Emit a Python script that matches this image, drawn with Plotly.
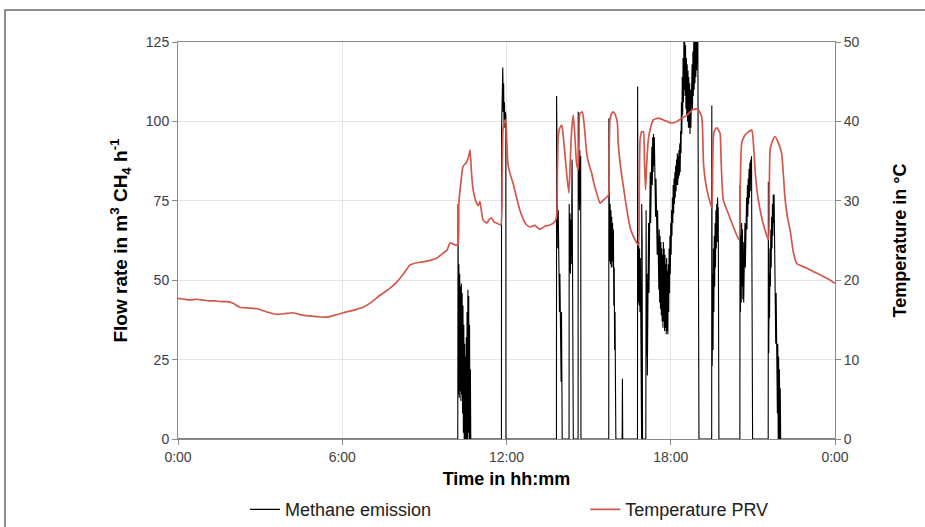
import plotly.graph_objects as go

# ---------------- data (time in hours of day) ----------------
temp_t = [0.00, 0.22, 0.44, 0.68, 0.91, 1.12, 1.35, 1.57, 1.79, 2.01, 2.26, 2.56, 2.89, 3.25, 3.62,
          3.91, 4.20, 4.53, 4.82, 5.11, 5.44, 5.74, 6.03, 6.39, 6.76, 7.09, 7.38, 7.71, 8.00, 8.26,
          8.47, 8.73, 8.95, 9.21, 9.46, 9.68, 9.83, 9.94, 10.08, 10.22, 10.26, 10.34, 10.41, 10.48,
          10.55, 10.62, 10.67, 10.72, 10.78, 10.91, 10.97, 11.03, 11.14, 11.28, 11.38, 11.46, 11.55,
          11.64, 11.79, 11.84, 11.87, 11.93, 11.97, 12.01, 12.05, 12.14, 12.24, 12.36, 12.49, 12.61,
          12.74, 12.86, 13.04, 13.22, 13.41, 13.59, 13.77, 13.83, 13.86, 13.89, 13.95, 14.02, 14.08,
          14.14, 14.21, 14.28, 14.33, 14.38, 14.44, 14.50, 14.56, 14.62, 14.65, 14.68, 14.77, 14.84,
          14.93, 15.01, 15.11, 15.20, 15.29, 15.42, 15.54, 15.72, 15.75, 15.78, 15.84, 15.90, 15.98,
          16.05, 16.08, 16.17, 16.27, 16.39, 16.51, 16.60, 16.69, 16.82, 16.85, 16.88, 16.94, 17.00,
          17.04, 17.08, 17.12, 17.18, 17.27, 17.36, 17.55, 17.79, 18.03, 18.22, 18.40, 18.60, 18.77,
          18.98, 19.13, 19.20, 19.32, 19.50, 19.53, 19.56, 19.62, 19.69, 19.80, 19.84, 19.92, 20.10,
          20.29, 20.49, 20.54, 20.59, 20.68, 20.77, 20.96, 21.02, 21.10, 21.20, 21.39, 21.57, 21.60,
          21.63, 21.72, 21.81, 21.93, 22.05, 22.11, 22.17, 22.26, 22.36, 22.48, 22.60, 22.78, 22.97,
          23.20, 23.45, 23.72, 24.00]
temp_v = [17.7, 17.6, 17.5, 17.6, 17.5, 17.4, 17.4, 17.3, 17.3, 17.1, 16.6, 16.5, 16.4, 16.0, 15.7,
          15.8, 15.9, 15.6, 15.5, 15.4, 15.35, 15.6, 15.9, 16.2, 16.6, 17.3, 18.1, 18.9, 19.8, 20.9,
          21.9, 22.2, 22.3, 22.5, 22.8, 23.4, 23.8, 24.7, 24.5, 24.4, 29.7, 32.5, 34.3, 34.6,
          34.9, 35.6, 36.4, 33.6, 31.4, 29.7, 29.4, 29.9, 27.6, 27.2, 27.7, 27.8, 27.3,
          27.2, 26.95, 33.0, 38.9, 40.0, 40.2, 37.5, 34.7, 33.3, 32.2, 30.5, 28.8, 27.7,
          26.95, 26.7, 26.9, 26.4, 26.8, 26.95, 27.4, 28.0, 34.0, 38.1, 39.2, 39.5, 37.9,
          35.6, 33.0, 31.0, 35.0, 38.9, 40.8, 38.0, 34.7, 33.9, 37.5, 41.0, 41.2, 39.5,
          36.0, 34.6, 33.5, 32.1, 31.0, 29.7, 30.1, 30.7, 36.0, 40.2, 41.0, 41.2, 40.8,
          39.8, 37.3, 34.2, 31.8, 29.0, 26.7, 25.8, 25.1, 24.4, 31.0, 37.7, 38.7, 38.7,
          35.0, 31.4, 34.5, 37.7, 39.3, 40.2, 40.4, 40.1, 39.8, 40.0, 40.4, 40.8, 41.4,
          41.6, 40.6, 34.5, 31.4, 29.1, 34.0, 38.1, 39.0, 39.2, 38.5, 35.0, 30.1, 28.4,
          26.7, 25.1, 32.0, 37.2, 38.1, 38.5, 38.9, 37.2, 33.0, 30.1, 26.95, 25.1, 31.0,
          36.4, 37.6, 38.1, 37.3, 36.0, 33.5, 30.5, 28.0, 26.3, 23.5, 22.1, 21.8, 21.5,
          21.1, 20.7, 20.2, 19.6]

# methane emission bursts (time h, flow m3 CH4/h); zero in between
ch4_burst1_t = [10.22, 10.230, 10.245, 10.260, 10.275, 10.290, 10.305, 10.320, 10.335, 10.350, 10.365,
                10.380, 10.395, 10.410, 10.425, 10.440, 10.455, 10.470, 10.485, 10.500, 10.515,
                10.530, 10.545, 10.560, 10.575, 10.590, 10.605, 10.620, 10.635, 10.650, 10.665,
                10.680, 10.695]
ch4_burst1_v = [0, 74, 14, 55, 13, 52, 15, 48, 12, 49, 14, 46, 8, 42, 2, 36, 0, 30, 0, 26, 0,
                32, 0, 40, 0, 47, 2, 45, 0, 36, 0, 22, 0]

ch4_burst2_t = [11.815, 11.820, 11.835, 11.850, 11.865, 11.880, 11.895, 11.910, 11.925, 11.940,
                11.955, 11.975, 11.980]
ch4_burst2_v = [0, 97, 108, 100, 117, 103, 112, 99, 106, 98, 103, 102, 0]

ch4_burst3_t = [13.825, 13.830, 13.845, 13.860, 13.875, 13.890, 13.905, 13.920, 13.935, 13.950,
                13.965, 13.980, 13.995, 14.010, 14.025, 14.035]
ch4_burst3_v = [0, 108, 91, 78, 60, 72, 50, 62, 40, 52, 28, 46, 18, 40, 16, 0]

ch4_burst4_t = [14.285, 14.290, 14.305, 14.320, 14.335, 14.350, 14.365, 14.380, 14.395, 14.440]
ch4_burst4_v = [0, 74, 53, 71, 52, 69, 55, 67, 88, 0]

ch4_burst5_t = [14.615, 14.620, 14.635, 14.650, 14.665, 14.680, 14.695, 14.710, 14.720]
ch4_burst5_v = [0, 103, 78, 93, 72, 91, 74, 89, 0]

ch4_burst6_t = [15.735, 15.740, 15.755, 15.770, 15.785, 15.800, 15.815, 15.830, 15.845, 15.860,
                15.875, 15.890, 15.905, 15.920, 15.935, 15.950, 15.965, 15.980, 15.995]
ch4_burst6_v = [0, 101, 72, 56, 74, 55, 72, 54, 70, 56, 68, 54, 66, 42, 54, 28, 40, 18, 0]

ch4_burst7_t = [16.225, 16.235, 16.245]
ch4_burst7_v = [0, 19, 0]

ch4_burst8_t = [16.785, 16.790, 16.800, 16.815, 16.830, 16.845, 16.860, 16.875, 16.890, 16.905,
                16.915, 16.935, 16.940, 16.955, 16.970, 17.090, 17.100, 17.115, 17.130, 17.145,
                17.160, 17.175, 17.190, 17.205, 17.220, 17.235, 17.250, 17.265, 17.280, 17.295,
                17.310, 17.325, 17.340, 17.355, 17.370, 17.385, 17.400, 17.415, 17.430, 17.445,
                17.460, 17.475, 17.490, 17.505, 17.520, 17.535, 17.550, 17.565, 17.580, 17.595,
                17.610, 17.625, 17.640, 17.655, 17.670, 17.685, 17.700, 17.715, 17.730, 17.745,
                17.760, 17.775, 17.790, 17.805, 17.820, 17.835, 17.850, 17.865, 17.880, 17.895,
                17.910, 17.925, 17.940, 17.955, 17.970, 17.985, 18.000, 18.015, 18.030, 18.045,
                18.060, 18.075, 18.090, 18.105, 18.120, 18.135, 18.150, 18.165, 18.180, 18.195,
                18.210, 18.225, 18.240, 18.255, 18.270, 18.285, 18.300, 18.315, 18.330, 18.345,
                18.360, 18.375, 18.390, 18.405, 18.420, 18.435, 18.450, 18.465, 18.480, 18.495,
                18.510, 18.525, 18.540, 18.555, 18.570, 18.585, 18.600, 18.615, 18.630, 18.645,
                18.660, 18.675, 18.690, 18.705, 18.720, 18.735, 18.750, 18.765, 18.780, 18.795,
                18.810, 18.825, 18.840, 18.855, 18.870, 18.885, 18.900, 18.915, 18.930, 18.945,
                18.960, 18.975, 18.990, 19.030]
ch4_burst8_v = [0, 111, 62, 43, 62, 42, 60, 40, 57, 38,
                0, 0, 74, 62, 0, 0, 72, 26, 52, 20,
                60, 33, 68, 46, 76, 58, 84, 68, 88, 76,
                92, 80, 95, 84, 96, 86, 95, 78, 88, 70,
                82, 64, 78, 58, 72, 52, 68, 47, 66, 43,
                64, 41, 62, 39, 60, 37, 58, 35, 62, 37,
                60, 34, 58, 35, 55, 33, 57, 34, 53, 33,
                55, 40, 60, 46, 64, 52, 68, 58, 72, 64,
                76, 68, 80, 71, 82, 74, 84, 76, 86, 78,
                88, 80, 90, 80, 89, 82, 91, 83, 93, 84,
                97, 90, 106, 96, 114, 102, 120, 106, 125, 110,
                125, 108, 124, 104, 120, 102, 118, 100, 116, 98,
                114, 98, 112, 96, 110, 98, 114, 102, 118, 104,
                122, 108, 125, 110, 125, 112, 125, 114, 125, 116,
                125, 118, 125, 0]

ch4_burst9_t = [19.495, 19.500, 19.515, 19.530, 19.545, 19.560, 19.575, 19.590, 19.605, 19.620,
                19.635, 19.650, 19.665, 19.680, 19.695, 19.710, 19.725, 19.735, 19.760]
ch4_burst9_v = [0, 105, 23, 52, 28, 60, 40, 64, 48, 68, 54, 72, 60, 74, 62, 76, 66, 73, 0]

ch4_burst10_t = [20.525, 20.530, 20.545, 20.560, 20.575, 20.590, 20.605, 20.620, 20.635, 20.650,
                 20.665, 20.680, 20.695, 20.710, 20.725, 20.740, 20.755, 20.770, 20.785, 20.800,
                 20.815, 20.830, 20.845, 20.860, 20.875, 20.890, 20.905, 20.920, 20.935, 20.950,
                 20.990]
ch4_burst10_v = [0, 80, 40, 64, 43, 68, 48, 66, 44, 62, 43, 64, 48, 68, 54, 72, 60, 76, 66, 80,
                 70, 82, 74, 85, 76, 87, 78, 88, 82, 89, 0]

ch4_burst11_t = [21.560, 21.565, 21.580, 21.595, 21.610, 21.625, 21.640, 21.655, 21.670, 21.685,
                 21.700, 21.715, 21.730, 21.745, 21.760, 21.775, 21.790, 21.805, 21.820, 21.835,
                 21.850, 21.865, 21.880, 21.895, 21.910, 21.925, 21.940, 21.955, 21.970, 21.985,
                 22.000, 22.015]
ch4_burst11_v = [0, 81, 27, 52, 38, 60, 48, 66, 54, 70, 60, 74, 64, 77, 68, 77, 60, 38, 52, 30,
                 46, 22, 38, 8, 30, 0, 26, 0, 22, 0, 16, 0]

bursts_t = [ch4_burst1_t, ch4_burst2_t, ch4_burst3_t, ch4_burst4_t, ch4_burst5_t, ch4_burst6_t,
            ch4_burst7_t, ch4_burst8_t, ch4_burst9_t, ch4_burst10_t, ch4_burst11_t]
bursts_v = [ch4_burst1_v, ch4_burst2_v, ch4_burst3_v, ch4_burst4_v, ch4_burst5_v, ch4_burst6_v,
            ch4_burst7_v, ch4_burst8_v, ch4_burst9_v, ch4_burst10_v, ch4_burst11_v]

ch4_t = [0.0]
ch4_v = [0]
for bt, bv in zip(bursts_t, bursts_v):
    ch4_t += bt
    ch4_v += bv
ch4_t.append(24.0)
ch4_v.append(0)

x_tickvals = [0, 6, 12, 18, 24]
x_ticktext = ["0:00", "6:00", "12:00", "18:00", "0:00"]

# ---------------- figure ----------------
FONT = "Arial, 'Liberation Sans', sans-serif"
fig = go.Figure()
fig.add_trace(go.Scatter(x=ch4_t, y=ch4_v, mode="lines", name="Methane emission",
                         line=dict(color="black", width=1.1), yaxis="y", legend="legend"))
fig.add_trace(go.Scatter(x=temp_t, y=temp_v, mode="lines", name="Temperature PRV",
                         line=dict(color="#d4574c", width=1.7, shape="spline", smoothing=0.5),
                         yaxis="y2", legend="legend2"))

axcol = "#8a8a8a"
leg_common = dict(orientation="h", yanchor="middle", y=-0.178, xanchor="left",
                  font=dict(size=18, color="#202020"), bgcolor="rgba(0,0,0,0)")
fig.update_layout(
    width=925, height=527,
    margin=dict(l=178, r=90, t=42, b=88, autoexpand=False),
    paper_bgcolor="white", plot_bgcolor="white",
    font=dict(family=FONT, color="#404040", size=14),
    showlegend=True,
    legend=dict(x=0.102, **leg_common),
    legend2=dict(x=0.620, **leg_common),
    xaxis=dict(range=[0, 24], tickvals=x_tickvals, ticktext=x_ticktext,
               showgrid=True, gridcolor="#e4e4e4", gridwidth=1,
               showline=True, linecolor=axcol, linewidth=1, mirror=True,
               ticks="outside", ticklen=5, tickcolor=axcol, zeroline=False,
               tickfont=dict(size=14, color="#404040"),
               title=dict(text="<b>Time in hh:mm</b>", font=dict(size=18, color="black"), standoff=8)),
    yaxis=dict(range=[0, 125], tickvals=[0, 25, 50, 75, 100, 125],
               showgrid=True, gridcolor="#e4e4e4", gridwidth=1,
               showline=True, linecolor=axcol, linewidth=1,
               ticks="outside", ticklen=5, tickcolor=axcol, zeroline=False,
               tickfont=dict(size=14, color="#3a3a50"),
               title=dict(text="<b>Flow rate in m<sup>3</sup> CH<sub>4</sub> h<sup>-1</sup></b>",
                          font=dict(size=19, color="black"), standoff=13)),
    yaxis2=dict(range=[0, 50], tickvals=[0, 10, 20, 30, 40, 50], overlaying="y", side="right",
                showgrid=False, showline=True, linecolor=axcol, linewidth=1,
                ticks="outside", ticklen=5, tickcolor=axcol, zeroline=False,
                tickfont=dict(size=14, color="#404040"),
                title=dict(text="<b>Temperature in °C</b>", font=dict(size=18, color="black"),
                           standoff=34)),
    shapes=[dict(type="rect", xref="paper", yref="paper",
                 x0=-0.2633, x1=1.25, y0=-0.35, y1=1.0806,
                 line=dict(color="#6a6a6a", width=1.5), fillcolor="rgba(0,0,0,0)", layer="below")],
)

fig.write_html("out.html")
